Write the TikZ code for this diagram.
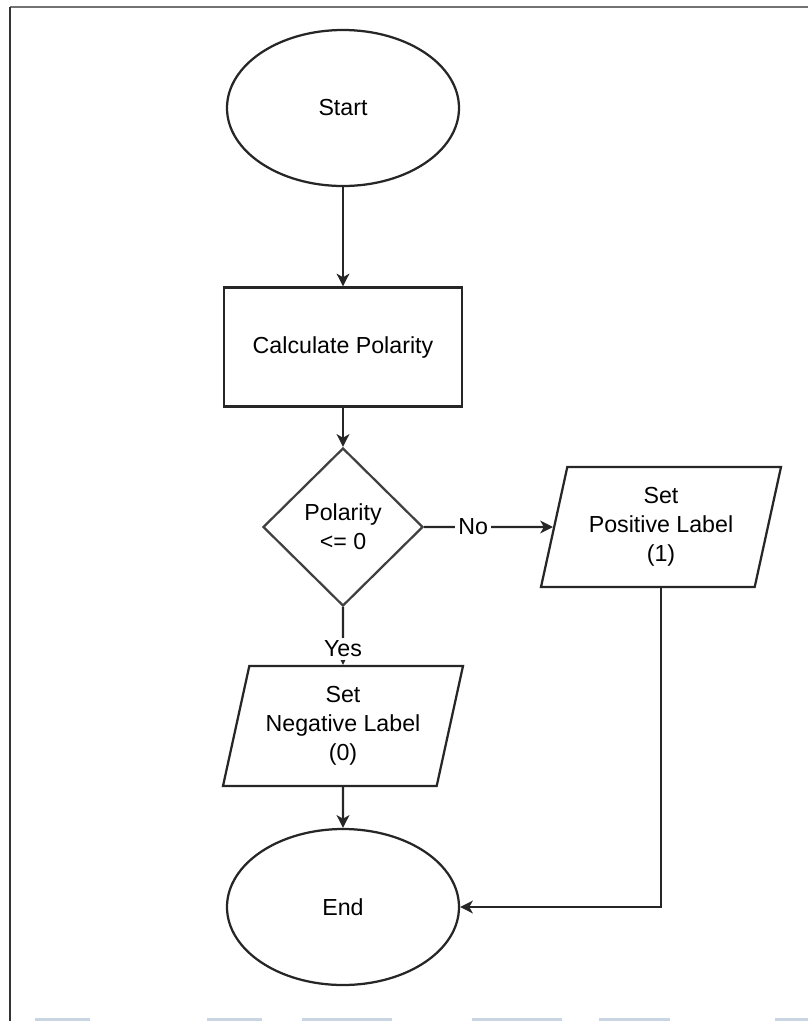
\documentclass[tikz,border=0pt]{standalone}
\usepackage{fontspec}
\setmainfont{Liberation Sans}
\usetikzlibrary{shapes.geometric,arrows.meta}
\definecolor{barblue}{HTML}{C9D5E3}
\begin{document}
\begin{tikzpicture}[x=0.025cm,y=-0.025cm,>={Stealth[length=9pt,width=9pt,inset=2.5pt]},
  line width=1.6pt,
  every node/.style={font=\fontsize{16.5}{20.6}\selectfont,align=center,text=black},
  terminal/.style={draw=black!85,ellipse,minimum width=232*\px,minimum height=156*\px,inner sep=0pt},
  process/.style={draw=black!85,rectangle,minimum width=238*\px,minimum height=119*\px,inner sep=0pt},
  decision/.style={draw=black!75,diamond,minimum width=160*\px,minimum height=158*\px,inner sep=0pt},
  io/.style={draw=black!85,trapezium,trapezium left angle=71.57,trapezium right angle=108.43,
    trapezium stretches body,minimum width=240*\px,minimum height=120*\px,inner sep=0pt},
  flow/.style={draw=black!85,->},
  lbl/.style={fill=white,inner sep=2pt}]
\def\px{0.025cm}
\def\cx{343}
\def\rx{661}
\useasboundingbox (0,0) rectangle (808,1021);
\draw[black!55,line width=0.05cm] (10,7) -- (808,7);
\draw[black!80,line width=0.05cm] (10,7) -- (10,1021);
\foreach \a/\b in {35/90,207/262,302/392,472/562,599/670,775/808}
  \fill[barblue] (\a,1018) rectangle (\b,1021);
\node[terminal] (start) at (\cx,108) {Start};
\node[process] (calc) at (\cx,347) {Calculate Polarity};
\node[decision] (check) at (\cx,527) {Polarity\\<= 0};
\node[io] (pos) at (\rx,527) {Set\\Positive Label\\(1)};
\node[io] (neg) at (\cx,726) {Set\\Negative Label\\(0)};
\node[terminal] (end) at (\cx,907) {End};
\draw[flow] (start) -- (calc);
\draw[flow] (calc) -- (check);
\draw[flow] (check.east) -- node[lbl,pos=0.38] {No} (pos);
\draw[flow] (check.south) -- node[lbl,pos=0.72] {Yes} (neg.north);
\draw[flow] (neg) -- (end);
\draw[flow] (pos.south) |- (end.east);
\end{tikzpicture}
\end{document}
